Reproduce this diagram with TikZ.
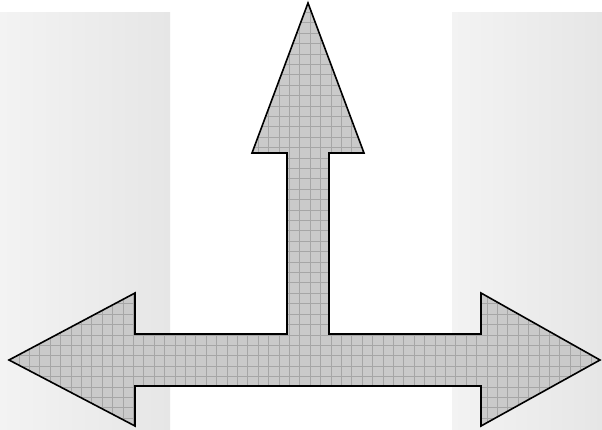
\documentclass[tikz,border=0pt]{standalone}
\begin{document}
\begin{tikzpicture}[x=1pt,y=-1pt]
\definecolor{bgA}{HTML}{F3F3F3}
\definecolor{bgB}{HTML}{E6E6E6}
\definecolor{arrowfill}{HTML}{CACACA}
\definecolor{gridcol}{HTML}{A6A6A6}
\tikzset{panel/.style={left color=bgA,right color=bgB},
  outline/.style={draw=black,line width=1.6pt,line join=miter}}
\newcommand\tarrowpath{(9,360) -- (135,293) -- (135,334) -- (287,334) -- (287,153) -- (252,153) -- (308,3) -- (364,153) -- (329,153) -- (329,334) -- (481,334) -- (481,293) -- (600,360) -- (481,426) -- (481,386) -- (135,386) -- (135,426) -- cycle}
\useasboundingbox (0,0) rectangle (602,430);
\fill[white] (0,0) rectangle (602,430);
\shade[panel] (0,13) rectangle (170,430);
\shade[panel] (452,13) rectangle (602,430);
\fill[arrowfill] \tarrowpath;
\begin{scope}
\clip \tarrowpath;
\foreach \i in {0,...,60} {
  \draw[gridcol,line width=0.6pt] (\i*10.4-2,0) -- (\i*10.4-2,430);
}
\foreach \j in {0,...,42} {
  \draw[gridcol,line width=0.6pt] (0,\j*10.4+2) -- (602,\j*10.4+2);
}
\end{scope}
\path[outline] \tarrowpath;
\end{tikzpicture}
\end{document}
